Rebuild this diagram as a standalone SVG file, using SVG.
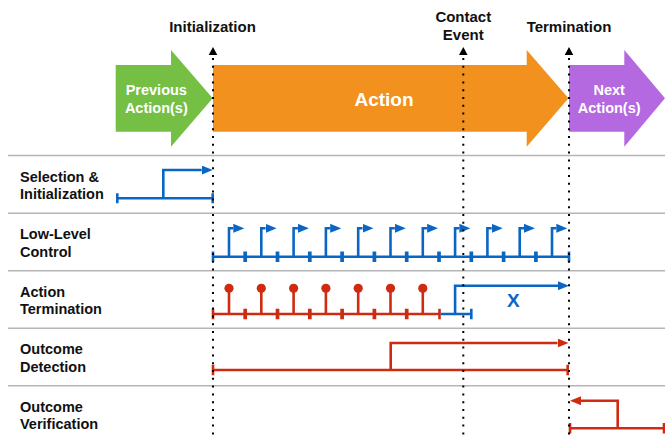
<svg xmlns="http://www.w3.org/2000/svg" width="665" height="439" viewBox="0 0 665 439">
<defs>
<style>
text{font-family:"Liberation Sans",Arial,sans-serif;font-weight:bold}
.hdr{font-size:15px;fill:#111;text-anchor:middle}
.lbl{font-size:14.5px;fill:#111}
.wht{font-size:14.5px;fill:#fff;text-anchor:middle}
.sep{stroke:#b5b5b5;stroke-width:1.5;fill:none}
.dot{stroke:#000;stroke-width:2;stroke-dasharray:2 5.8;fill:none}
.b{stroke:#0b66c3;stroke-width:2.6;fill:none}
.r{stroke:#cf2b10;stroke-width:2.6;fill:none}
.bt{stroke:#0b66c3;stroke-width:3.7;fill:none}
.rt{stroke:#cf2b10;stroke-width:3.7;fill:none}
.ba{marker-end:url(#ab)}
.ra{marker-end:url(#ar)}
</style>
<marker id="ab" viewBox="0 0 11 9" refX="0" refY="4.5" markerWidth="11" markerHeight="9" markerUnits="userSpaceOnUse" orient="auto"><path d="M0,0 L11,4.5 L0,9 Z" fill="#0b66c3"/></marker>
<marker id="ar" viewBox="0 0 11 9" refX="0" refY="4.5" markerWidth="11" markerHeight="9" markerUnits="userSpaceOnUse" orient="auto"><path d="M0,0 L11,4.5 L0,9 Z" fill="#cf2b10"/></marker>
</defs>
<rect width="665" height="439" fill="#fff"/>

<g id="phase-previous">
<polygon points="115.7,65 171,65 171,50 212.7,98.3 171,146.7 171,131.7 115.7,131.7" fill="#74bf44"/>
<text class="wht" x="156.3" y="95">Previous</text>
<text class="wht" x="156.3" y="113">Action(s)</text>
</g>
<g id="phase-action">
<polygon points="213,65 526.7,65 526.7,50 568.5,98.3 526.7,146.7 526.7,131.7 213,131.7" fill="#f2911e"/>
<text x="384" y="106" style="font-size:19px;fill:#fff;text-anchor:middle">Action</text>
</g>
<g id="phase-next">
<polygon points="569,65 624.3,65 624.3,50 665,98.3 624.3,146.7 624.3,131.7 569,131.7" fill="#b469e0"/>
<text class="wht" x="609.2" y="95">Next</text>
<text class="wht" x="609.2" y="113">Action(s)</text>
</g>

<g id="separators">
<line class="sep" x1="8" y1="155.5" x2="665" y2="155.5"/>
<line class="sep" x1="8" y1="213.3" x2="665" y2="213.3"/>
<line class="sep" x1="8" y1="270.8" x2="665" y2="270.8"/>
<line class="sep" x1="8" y1="328.3" x2="665" y2="328.3"/>
<line class="sep" x1="8" y1="385.8" x2="665" y2="385.8"/>
</g>

<g id="row-selection"><text class="lbl" x="20" y="181.7">Selection &amp;</text><text class="lbl" x="20" y="199.3">Initialization</text></g>
<g id="row-lowlevel"><text class="lbl" x="20" y="239.2">Low-Level</text><text class="lbl" x="20" y="256.8">Control</text></g>
<g id="row-termination"><text class="lbl" x="20" y="296.7">Action</text><text class="lbl" x="20" y="314.3">Termination</text></g>
<g id="row-detection"><text class="lbl" x="20" y="354.2">Outcome</text><text class="lbl" x="20" y="371.8">Detection</text></g>
<g id="row-verification"><text class="lbl" x="20" y="411.7">Outcome</text><text class="lbl" x="20" y="429.3">Verification</text></g>

<g id="connectors">
<!-- Selection & Initialization -->
<path class="b" d="M117.3,198.3 H212.7"/>
<path class="b" d="M117.3,193.3 V203.3 M212.7,193.3 V203.3"/>
<path class="b ba" d="M163.3,198.3 V170 H201.7"/>
<!-- Low-Level Control -->
<path class="b" d="M213,256.7 H569"/>
<path class="b" d="M213,251.5 V262 M569,251.5 V262"/>
<path class="bt" d="M245.2,251.5 v10.5 M277.5,251.5 v10.5 M309.8,251.5 v10.5 M342.1,251.5 v10.5 M374.4,251.5 v10.5 M406.7,251.5 v10.5 M439,251.5 v10.5 M471.3,251.5 v10.5 M503.6,251.5 v10.5 M535.9,251.5 v10.5"/>
<path class="b ba" d="M229,256.7 V228.3 H233.3"/>
<path class="b ba" d="M261.3,256.7 V228.3 H265.6"/>
<path class="b ba" d="M293.6,256.7 V228.3 H297.9"/>
<path class="b ba" d="M325.9,256.7 V228.3 H330.2"/>
<path class="b ba" d="M358.2,256.7 V228.3 H362.5"/>
<path class="b ba" d="M390.5,256.7 V228.3 H394.8"/>
<path class="b ba" d="M422.8,256.7 V228.3 H427.1"/>
<path class="b ba" d="M455.1,256.7 V228.3 H459.4"/>
<path class="b ba" d="M487.4,256.7 V228.3 H491.7"/>
<path class="b ba" d="M519.7,256.7 V228.3 H524"/>
<path class="b ba" d="M552,256.7 V228.3 H556.3"/>
<!-- Action Termination -->
<path class="r" d="M213,314 H439"/>
<path class="r" d="M213,308.8 V319.3"/>
<path class="rt" d="M245.2,308.8 v10.5 M277.5,308.8 v10.5 M309.8,308.8 v10.5 M342.1,308.8 v10.5 M374.4,308.8 v10.5 M406.7,308.8 v10.5"/>
<path class="r" d="M439.5,308.8 v10.5"/>
<path class="r" d="M229,314 V288.3 M261.3,314 V288.3 M293.6,314 V288.3 M325.9,314 V288.3 M358.2,314 V288.3 M390.5,314 V288.3 M422.8,314 V288.3"/>
<g fill="#cf2b10">
<circle cx="229" cy="288.3" r="4.6"/><circle cx="261.3" cy="288.3" r="4.6"/><circle cx="293.6" cy="288.3" r="4.6"/><circle cx="325.9" cy="288.3" r="4.6"/><circle cx="358.2" cy="288.3" r="4.6"/><circle cx="390.5" cy="288.3" r="4.6"/><circle cx="422.8" cy="288.3" r="4.6"/>
</g>
<path class="b" d="M440.5,314 H471.3 M471.3,308.8 V319.3"/>
<path class="b ba" d="M455.1,314 V285.7 H558"/>
<text x="513.3" y="306.7" style="font-size:19px;fill:#0b66c3;text-anchor:middle">X</text>
<!-- Outcome Detection -->
<path class="r" d="M213,370 H567.7"/>
<path class="r" d="M213,364.8 V375.3 M567.7,364.8 V375.3"/>
<path class="r ra" d="M390.7,370 V343 H557.5"/>
<!-- Outcome Verification -->
<path class="r" d="M570,428.3 H664"/>
<path class="r" d="M570,423 V433.5 M664,423 V433.5"/>
<path class="r ra" d="M617.7,428.3 V400.7 H581"/>
</g>

<g id="event-initialization">
<line class="dot" x1="213" y1="58" x2="213" y2="439"/>
<polygon points="208.7,55 217.3,55 213,47" fill="#000"/>
<text class="hdr" x="212.5" y="31.7">Initialization</text>
</g>
<g id="event-contact">
<line class="dot" x1="463.3" y1="58" x2="463.3" y2="439"/>
<polygon points="459,55 467.6,55 463.3,47" fill="#000"/>
<text class="hdr" x="463.3" y="21.7">Contact</text>
<text class="hdr" x="463.3" y="40">Event</text>
</g>
<g id="event-termination">
<line class="dot" x1="569" y1="58" x2="569" y2="439"/>
<polygon points="564.7,55 573.3,55 569,47" fill="#000"/>
<text class="hdr" x="569" y="31.7">Termination</text>
</g>
</svg>
